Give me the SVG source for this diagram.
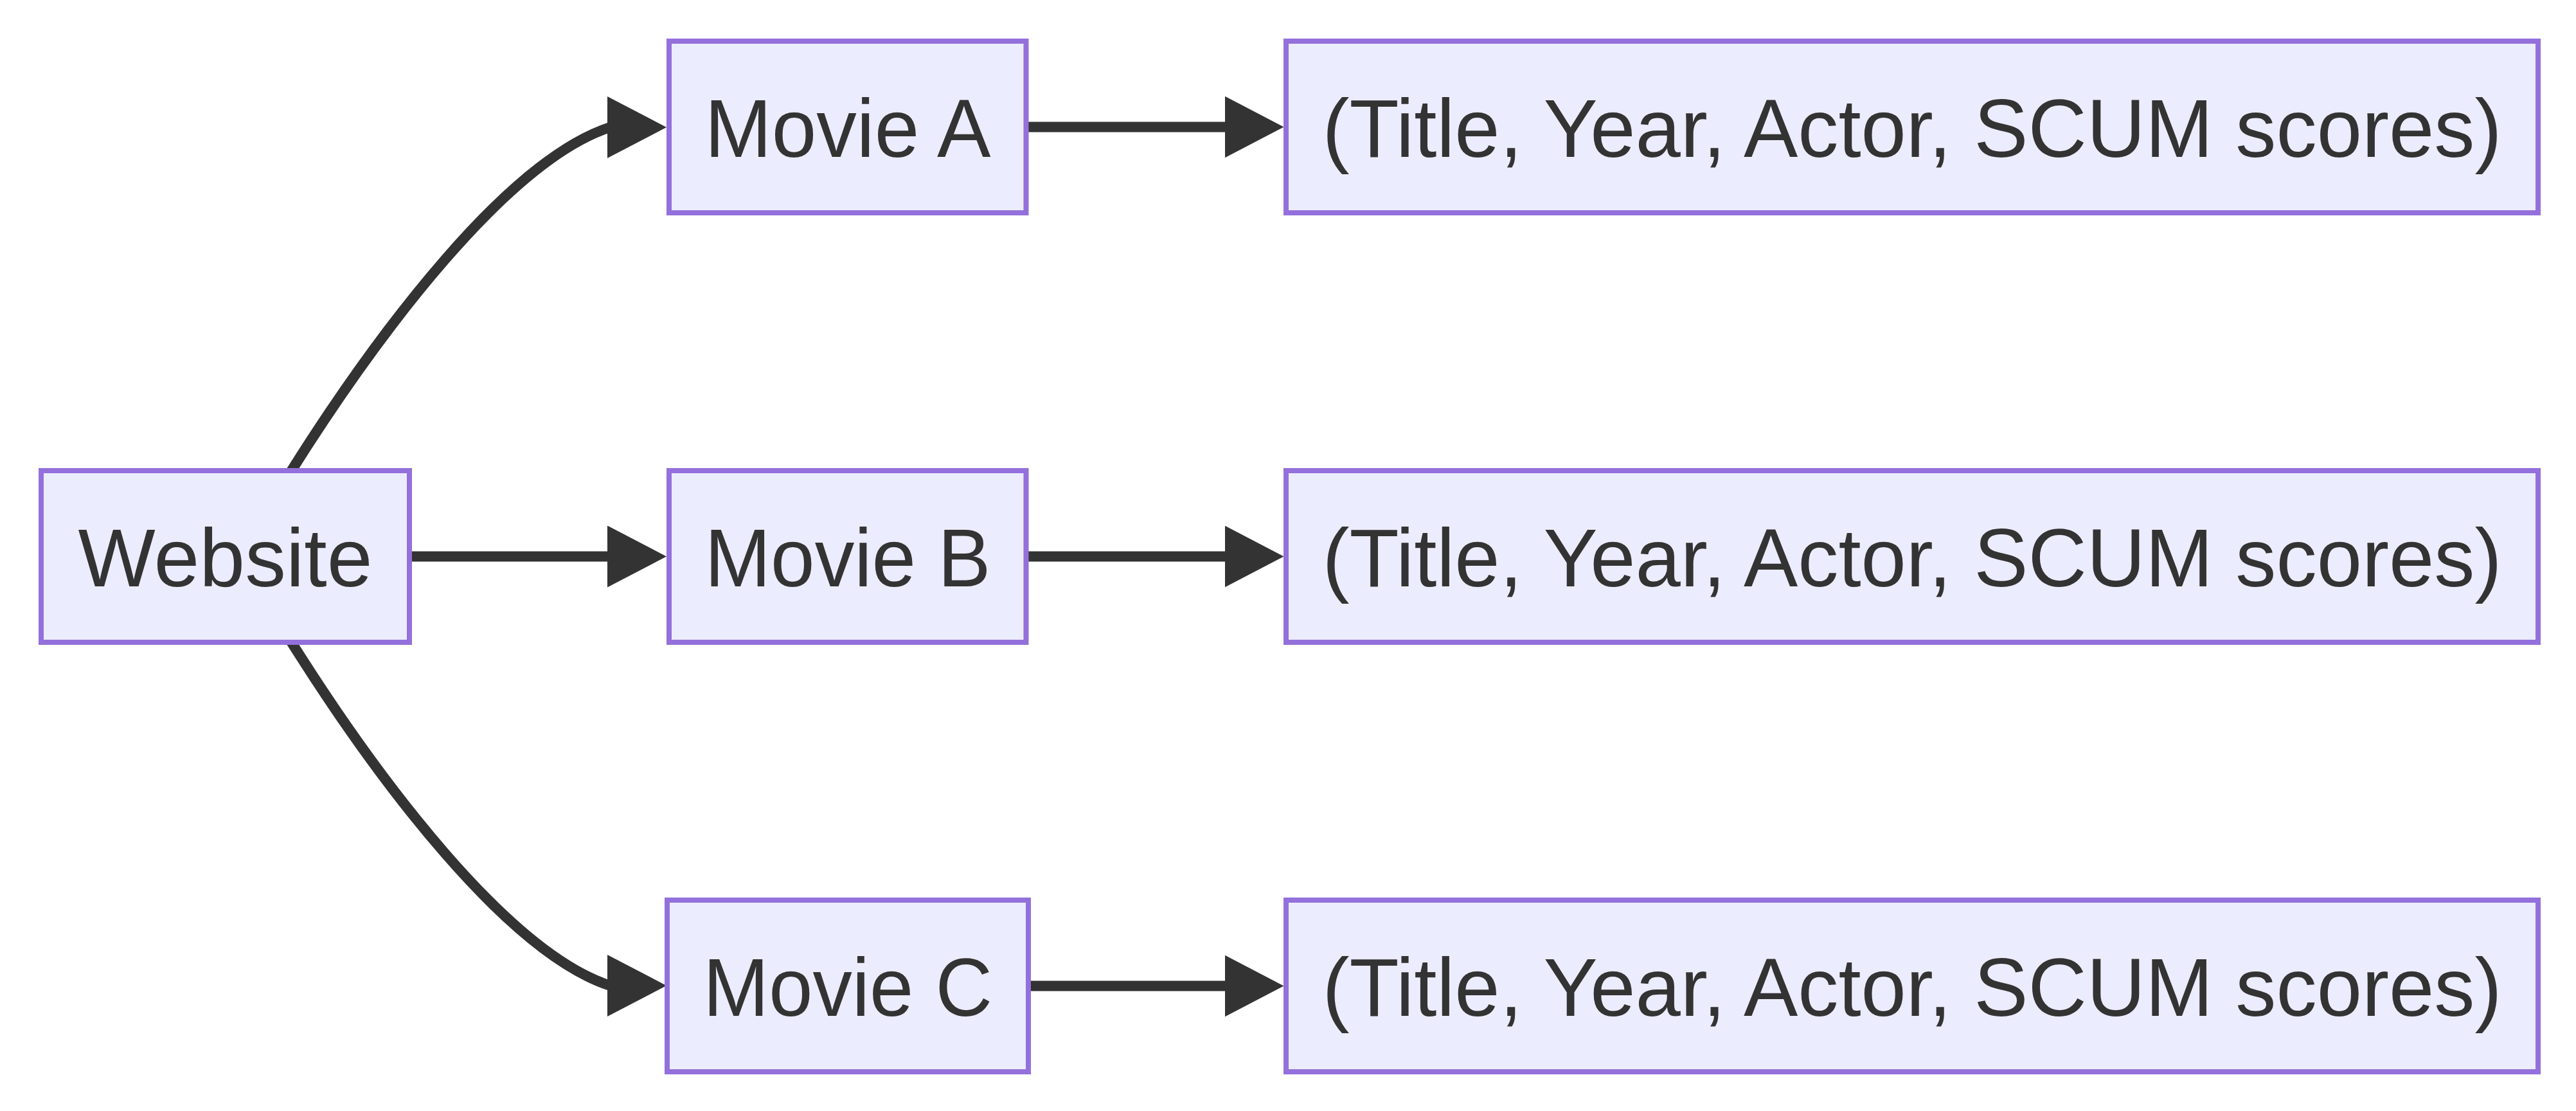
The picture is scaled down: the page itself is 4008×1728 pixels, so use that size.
<svg xmlns="http://www.w3.org/2000/svg" width="4008" height="1728" viewBox="0 0 4008 1728">
<style>
.edge{fill:none;stroke:#333333;stroke-width:16;marker-end:url(#arrow)}
.node rect{fill:#ECECFF;stroke:#9370DB;stroke-width:8}
.node text{font-family:"Liberation Sans",Arial,sans-serif;font-size:128px;fill:#333333;text-anchor:middle}
</style>
<defs>
<marker id="arrow" markerUnits="userSpaceOnUse" viewBox="0 0 92 96" markerWidth="92" markerHeight="96" refX="4" refY="48" orient="0">
<path d="M0,0 L92,48 L0,96 Z" fill="#333333"/>
</marker>
</defs>
<rect width="4008" height="1728" fill="#ffffff"/>
<g id="connectors">
<path class="edge" d="M451,736 C590,515 790,250 949,198"/>
<path class="edge" d="M641,865.5 L949,865.5"/>
<path class="edge" d="M451,995 C590,1216 790,1481 949,1533"/>
<path class="edge" d="M1596,197.5 L1909.5,197.5"/>
<path class="edge" d="M1596,865.5 L1909.5,865.5"/>
<path class="edge" d="M1600,1533.5 L1909.5,1533.5"/>
</g>
<g id="website" class="node">
<rect x="64" y="732" width="573" height="267"/>
<text x="350.5" y="912" textLength="458" lengthAdjust="spacingAndGlyphs">Website</text>
</g>
<g id="movieA" class="node">
<rect x="1041" y="64" width="555.5" height="267"/>
<text x="1319" y="244" textLength="445" lengthAdjust="spacingAndGlyphs">Movie A</text>
</g>
<g id="movieB" class="node">
<rect x="1041" y="732" width="555.5" height="267"/>
<text x="1319" y="912" textLength="445" lengthAdjust="spacingAndGlyphs">Movie B</text>
</g>
<g id="movieC" class="node">
<rect x="1038" y="1400" width="562" height="267"/>
<text x="1319" y="1580" textLength="450" lengthAdjust="spacingAndGlyphs">Movie C</text>
</g>
<g id="dataA" class="node">
<rect x="2001" y="64" width="1948" height="267"/>
<text x="2975" y="244" textLength="1835" lengthAdjust="spacingAndGlyphs">(Title, Year, Actor, SCUM scores)</text>
</g>
<g id="dataB" class="node">
<rect x="2001" y="732" width="1948" height="267"/>
<text x="2975" y="912" textLength="1835" lengthAdjust="spacingAndGlyphs">(Title, Year, Actor, SCUM scores)</text>
</g>
<g id="dataC" class="node">
<rect x="2001" y="1400" width="1948" height="267"/>
<text x="2975" y="1580" textLength="1835" lengthAdjust="spacingAndGlyphs">(Title, Year, Actor, SCUM scores)</text>
</g>
</svg>
